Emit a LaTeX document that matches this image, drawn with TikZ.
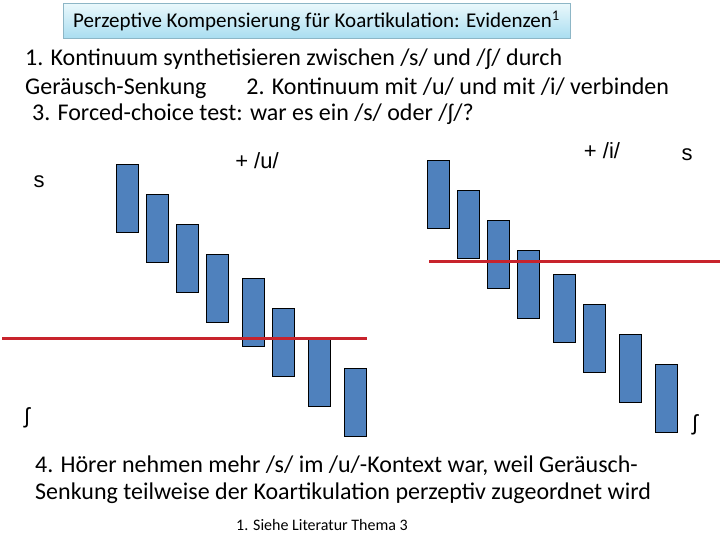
\documentclass[tikz,border=0pt]{standalone}
\usepackage{fontspec}
\setmainfont{Carlito}
\newfontfamily\arialfont{Liberation Sans}
\usetikzlibrary{positioning}

\definecolor{barblue}{HTML}{4F81BD}
\definecolor{cutred}{HTML}{C8232C}
\definecolor{titletop}{HTML}{EAF8FC}
\definecolor{titlebot}{HTML}{A9DDF0}
\definecolor{titleframe}{HTML}{8DB6C6}

\tikzset{
  bar/.style={draw=black, line width=0.6pt, fill=barblue, minimum width=22pt, minimum height=68pt, inner sep=0pt},
  cutline/.style={draw=cutred, line width=3pt},
  bodytext/.style={font=\fontsize{24}{28}\selectfont, inner sep=0pt, anchor=base west},
  marklabel/.style={font=\arialfont\fontsize{22}{26}\selectfont, inner sep=0pt}
}

\begin{document}
\begin{tikzpicture}[x=1pt, y=-1pt]
  \useasboundingbox (0,0) rectangle (720,540);
  % title box
  \node[draw=titleframe, top color=titletop, bottom color=titlebot, minimum width=507pt, minimum height=35pt,
        inner sep=0pt, font=\fontsize{21}{24}\selectfont] (title) at (316.5,21)
        {Perzeptive Kompensierung für Koartikulation: Evidenzen\textsuperscript{1}};
  % instructions
  \node[bodytext] (step1) at (25,66) {1. Kontinuum synthetisieren zwischen /s/ und /ʃ/ durch};
  \node[bodytext] (step2) at (25,95) {Geräusch-Senkung\hspace{40pt}2. Kontinuum mit /u/ und mit /i/ verbinden};
  \node[bodytext] (step3) at (32,121) {3. Forced-choice test: war es ein /s/ oder /ʃ/?};
  % /u/ continuum
  \foreach \i/\x/\y in {1/127/198, 2/157/228, 3/187/258, 4/217/288, 5/253/312, 6/283/342, 7/319/372, 8/355/402}
    \node[bar] (u\i) at (\x,\y) {};
  \coordinate (ucutL) at (2,338);
  \coordinate (ucutR) at (367,338);
  \draw[cutline] (ucutL) -- (ucutR);
  \node[marklabel] (us) at (39,182) {s};
  \node[marklabel] (ush) at (27,418) {ʃ};
  \node[marklabel] (ulab) at (257,161) {+ /u/};
  % /i/ continuum
  \foreach \i/\x/\y in {1/438.5/194.5, 2/468.5/224.5, 3/498.5/254.5, 4/528.5/284.5, 5/564.3/308.2, 6/594.3/338.2, 7/630.3/368.2, 8/666.5/398.3}
    \node[bar] (i\i) at (\x,\y) {};
  \coordinate (icutL) at (429,261);
  \coordinate (icutR) at (720,261);
  \draw[cutline] (icutL) -- (icutR);
  \node[marklabel] (is) at (687,155) {s};
  \node[marklabel] (ish) at (695,425) {ʃ};
  \node[marklabel] (ilab) at (602,151) {+ /i/};
  % result
  \node[bodytext] (step4a) at (35,472) {4. Hörer nehmen mehr /s/ im /u/-Kontext war, weil Geräusch-};
  \node[bodytext] (step4b) at (35,499) {Senkung teilweise der Koartikulation perzeptiv zugeordnet wird};
  \node[font=\fontsize{16}{18}\selectfont, inner sep=0pt, anchor=base] (note) at (322,530) {1. Siehe Literatur Thema 3};
\end{tikzpicture}
\end{document}
